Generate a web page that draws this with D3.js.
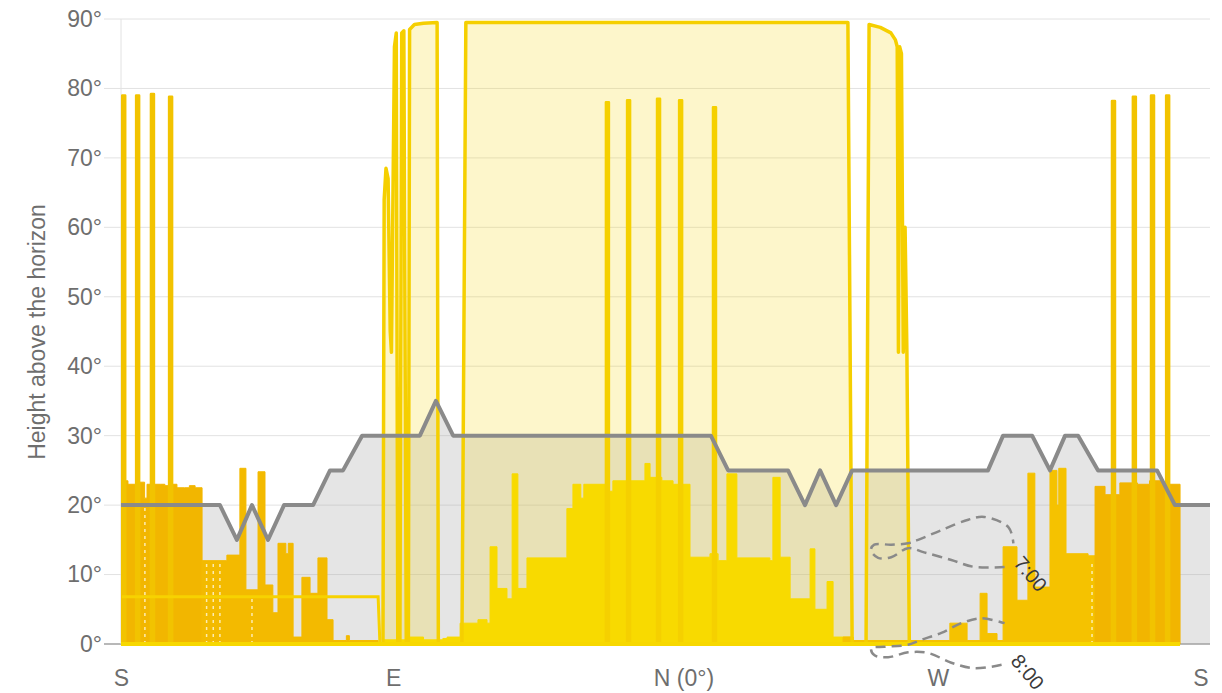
<!DOCTYPE html>
<html><head><meta charset="utf-8">
<script src="https://cdn.jsdelivr.net/npm/d3@7"></script>
<style>html,body{margin:0;padding:0;background:#fff;} svg{display:block;font-family:"Liberation Sans",Arial,sans-serif;}</style>
</head><body><svg id="chart" width="1222" height="693"></svg>
<script>
// ---------- data ----------
const xTickValues = [0, 90, 180, 270, 360];
const xTickLabels = ["S", "E", "N (0°)", "W", "S"];
const yTickValues = [0, 10, 20, 30, 40, 50, 60, 70, 80, 90];
const yTitle = "Height above the horizon";

// horizon profile [azimuth-from-south, altitude]
const horizon = [[0,20],[32.7,20],[38.3,15],[43.3,20],[48.6,15],[53.9,20],[63.5,20],[69.1,25],[73.4,25],[79.7,30],[98.8,30],[104.1,35],[109.8,30],[195,30],[200.7,25],[220.5,25],[226.1,20],[231.1,25],[236.4,20],[241.7,25],[286.6,25],[291.6,30],[301.2,30],[307.1,25],[312.1,30],[316.4,30],[323,25],[342.5,25],[348.4,20],[360,20]];

// high sun-path envelopes
const envEast = [[86.6,0],[87.0,64],[87.6,68.5],[88.3,67],[89.0,45],[89.4,42],[89.8,60],[90.4,86],[91.0,88],[91.5,0],[92.2,0],[92.8,88],[93.5,88.3],[94.3,0],[95.0,0],[95.4,88.5],[97,89.2],[100,89.4],[104.5,89.5],[104.9,0]];
const envNorth = [[112.7,0],[114.0,89.5],[240.3,89.5],[241.7,0]];
const envWest = [[246.3,0],[247.3,89.2],[251,88.8],[254.5,88],[256,87],[256.6,86],[257,42],[257.4,86],[258,85],[258.6,42],[259.2,60],[259.8,42],[260.6,0]];

// tall spikes
const spikeAz  = [0.4, 5.0, 9.9, 15.9, 160.3, 167.3, 177.2, 184.5, 195.7, 327.6, 334.5, 340.5, 345.5];
const spikeAlt = [79, 79, 79.2, 78.8, 78, 78.3, 78.5, 78.3, 77.3, 78.2, 78.8, 79, 79];

// low dense paths (step profiles)
const lowSouthA = [[0.3,23.5],[2.3,23],[4.9,23.3],[7.8,21],[8.6,23],[13,23],[14.5,22.8],[16.5,23],[18.5,22.5],[21,22.5],[22.6,22.8],[24.5,22.5],[26.8,0]];
const lowSouthB = [[26.8,12],[35,12.8],[39.3,25.3],[41.3,7.8],[45.3,24.8],[47.6,8.5],[50.2,4.5],[51.9,14.5],[54.5,13],[55.3,14.5],[56.9,1],[59.8,9.6],[62.5,7.3],[65.1,12.4],[68.1,3.5],[70.1,0.5],[74.5,1.2],[75.5,0.5],[85,0]];
const lowNorth = [[86.6,0.6],[95,1],[100,0.6],[106.4,0.8],[107.8,1],[112.1,3],[118,3.5],[121,3],[122,14],[124.3,8],[127.6,6.5],[129.3,24.5],[131.2,8],[134.2,12.4],[147.4,19.5],[149.4,23],[152,21],[153,23],[160.7,22],[162.6,23.5],[168.9,23.5],[173.2,26],[174.9,24],[178.8,23.5],[182.5,23],[188.1,12.5],[194.7,13],[197.4,12],[200.3,24.5],[203.6,12.4],[214.5,12],[215.5,24],[217.9,12.5],[221.2,6.5],[227.8,13.7],[229.4,5],[233.4,9],[235.4,1],[242,0]];
const lowWestA = [[238.7,1],[242,0.5],[274,3],[279.7,0.5],[284,7.3],[286.3,1.5],[289.6,0.5],[291.6,14],[296.2,6.3],[299.8,24.6],[302.1,8.2],[307.1,25],[309.4,20],[310,25.3],[312.4,13],[319.7,12.7],[322,0]];
const lowWestB = [[322,22.7],[325.3,21.5],[330.2,23.2],[336,23],[340,23.5],[344,23],[350.1,0]];
const line7 = [[0.3,6.8],[85,6.8],[85.6,0]];
const baseline = [[0,0],[350.1,0]];
const whiteDashes = [[7.9,20],[28.3,12],[30.5,12],[32.7,12],[43.3,7],[321,12]];

// hour analemmas (first point = labelled end)
const hour7 = [[292.1,11.1],[282.1,11.1],[274.5,12.1],[265.5,13.2],[260.2,13.8],[254.6,12.5],[250.3,12.4],[247.9,13.5],[249.0,14.3],[254.6,14.3],[260.2,14.5],[263.5,15.0],[271.2,16.4],[280.1,17.9],[285.4,18.3],[293.4,16.8],[295.0,14.5]];
const hour8 = [[291.1,-3.0],[282.1,-3.5],[274.5,-2.7],[266.9,-1.3],[260.2,-1.2],[253.6,-1.9],[249.0,-1.6],[248.0,-0.6],[252.3,-0.4],[260.2,-0.1],[264.5,0.6],[271.2,1.6],[277.8,3.0],[284.4,3.7],[292.1,3.0]];
const hourLabels = ["7:00", "8:00"];

// ---------- drawing ----------
const svg = d3.select("#chart");
const x = d3.scaleLinear().domain([0, 360]).range([121, 1210]);
const y = d3.scaleLinear().domain([0, 90]).range([644, 19]);

// grid
svg.append("g").selectAll("line").data(yTickValues).join("line")
  .attr("x1", 104).attr("x2", x(360)).attr("y1", d => y(d)).attr("y2", d => y(d))
  .attr("stroke", d => d === 0 ? "#b8b8b8" : "#e2e2e2").attr("stroke-width", d => d === 0 ? 2 : 1);
svg.append("line").attr("x1", x(0)).attr("x2", x(0)).attr("y1", y(90)).attr("y2", y(0))
  .attr("stroke", "#e2e2e2");

const area = d3.area().x(d => x(d[0])).y0(y(0)).y1(d => y(d[1]));
const stepArea = d3.area().curve(d3.curveStepAfter).x(d => x(d[0])).y0(y(0)).y1(d => y(d[1]));
const line = d3.line().x(d => x(d[0])).y(d => y(d[1]));
const smooth = d3.line().curve(d3.curveCatmullRom).x(d => x(d[0])).y(d => y(d[1]));

// horizon fill
svg.append("path").attr("d", area(horizon)).attr("fill", "rgba(170,170,170,0.3)");

// envelope fills
[envEast, envNorth, envWest].forEach(e => {
  svg.append("path").attr("d", area(e)).attr("fill", "rgba(247,212,20,0.22)");
});

// low dense areas
const lows = [[lowSouthA, "#f2b600"], [lowSouthB, "#f3ba00"], [lowNorth, "#f8da00"], [lowWestA, "#f5c200"], [lowWestB, "#f2b500"]];
lows.forEach(([d, c]) => {
  svg.append("path").attr("d", stepArea(d)).attr("fill", c).attr("stroke", c).attr("stroke-width", 1);
});
svg.append("g").selectAll("line").data(whiteDashes).join("line")
  .attr("x1", d => x(d[0])).attr("x2", d => x(d[0])).attr("y1", y(0)).attr("y2", d => y(d[1]))
  .attr("stroke", "#fff5d0").attr("stroke-width", 1.5).attr("stroke-dasharray", "3,4").attr("opacity", 0.85);

// envelope strokes
[envEast, envNorth, envWest].forEach(e => {
  svg.append("path").attr("d", line(e)).attr("fill", "none").attr("stroke", "#f5cf00")
    .attr("stroke-width", 3.5).attr("stroke-linejoin", "round");
});

// tall spikes
svg.append("g").selectAll("path").data(spikeAz).join("path")
  .attr("d", (d, i) => `M${x(d)},${y(0)}V${y(spikeAlt[i])}H${x(d) + 3}V${y(0)}Z`)
  .attr("fill", d => (d < 90 || d > 270) ? "#f2c300" : "#f5d000")
  .attr("stroke", d => (d < 90 || d > 270) ? "#f2c300" : "#f5d000")
  .attr("stroke-width", 2.5).attr("stroke-linejoin", "round");

// 7° line and base line
svg.append("path").attr("d", line(line7)).attr("fill", "none").attr("stroke", "#f7d200").attr("stroke-width", 3);
svg.append("path").attr("d", line(baseline)).attr("fill", "none").attr("stroke", "#f7d800").attr("stroke-width", 4);

// horizon line
svg.append("path").attr("d", line(horizon)).attr("fill", "none").attr("stroke", "#8a8a8a")
  .attr("stroke-width", 4).attr("stroke-linejoin", "round");

// hour analemmas
[hour7, hour8].forEach((h, i) => {
  svg.append("path").attr("d", smooth(h)).attr("fill", "none").attr("stroke", "#8a8a8a")
    .attr("stroke-width", 2.5).attr("stroke-dasharray", "10,6");
  const end = h[0];
  svg.append("text")
    .attr("transform", `translate(${x(end[0]) + 26},${y(end[1]) + 7}) rotate(50)`)
    .attr("text-anchor", "middle").attr("dy", "0.35em")
    .attr("font-size", 20).attr("fill", "#3a3a3a").text(hourLabels[i]);
});

// y axis labels
const yAxis = d3.axisLeft(y).tickValues(yTickValues).tickFormat(d => d + "°").tickSize(0).tickPadding(19);
const gy = svg.append("g").attr("transform", `translate(${x(0)},0)`).call(yAxis);
gy.select(".domain").remove();
gy.selectAll("text").attr("font-size", 23).attr("fill", "#6e6e6e")
  .attr("font-family", "Liberation Sans, Arial, sans-serif");

// x axis labels
const xAxis = d3.axisBottom(x).tickValues(xTickValues).tickFormat((d, i) => xTickLabels[i]).tickSize(0);
const gx = svg.append("g").attr("transform", `translate(0,${y(0)})`).call(xAxis);
gx.select(".domain").remove();
gx.selectAll("text").attr("font-size", 23).attr("fill", "#6e6e6e")
  .attr("font-family", "Liberation Sans, Arial, sans-serif")
  .attr("y", 34).attr("dy", "0.35em")
  .attr("dx", (d, i) => i === 2 ? 18 : (i === 4 ? -2 : 0))
  .attr("text-anchor", (d, i) => i === 4 ? "end" : "middle");

// y title
svg.append("text").attr("transform", "translate(45,332) rotate(-90)")
  .attr("text-anchor", "middle").attr("font-size", 23).attr("fill", "#6e6e6e").text(yTitle);
</script></body></html>
